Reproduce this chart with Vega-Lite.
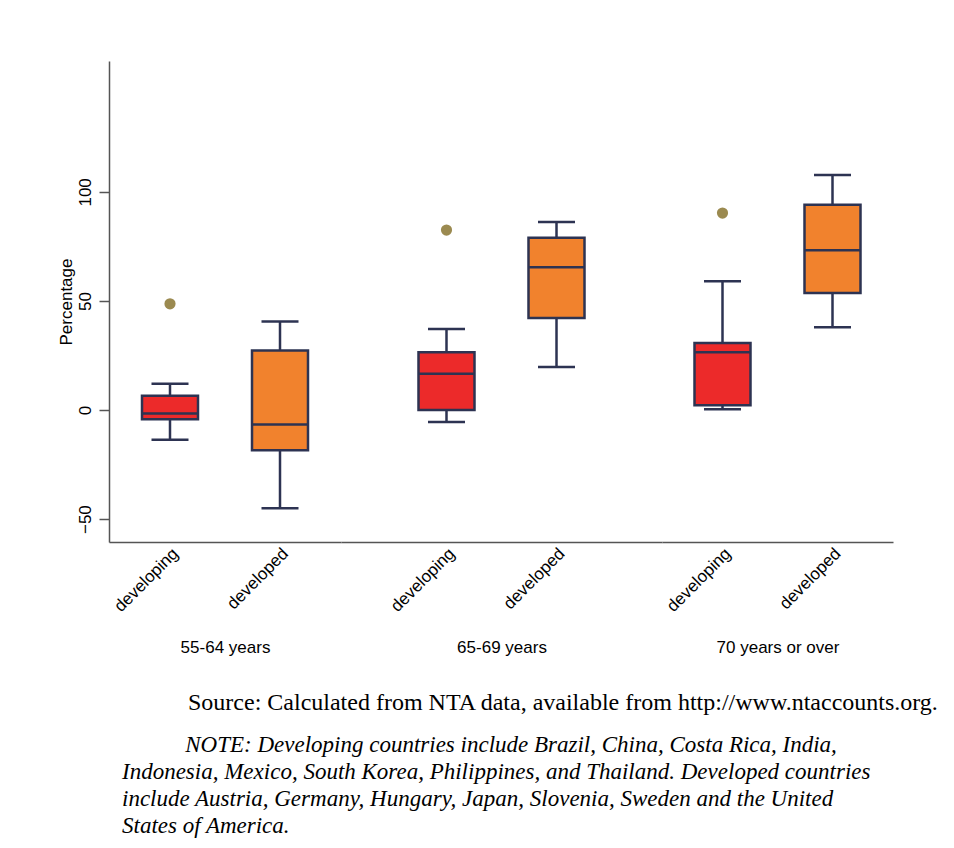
{
  "$schema": "https://vega.github.io/schema/vega-lite/v6.json",
  "padding": {"left": 57, "top": 61, "right": 0, "bottom": 10},
  "background": "white",
  "data": {"values": [
    {"group": "55-64 years", "type": "developing", "lower": -13.6, "q1": -4.2, "median": -1.6, "q3": 6.5, "upper": 12.0, "outlier": 48.7},
    {"group": "55-64 years", "type": "developed", "lower": -45.0, "q1": -18.4, "median": -6.6, "q3": 27.3, "upper": 40.6, "outlier": null},
    {"group": "65-69 years", "type": "developing", "lower": -5.5, "q1": 0.0, "median": 16.6, "q3": 26.5, "upper": 37.2, "outlier": 82.5},
    {"group": "65-69 years", "type": "developed", "lower": 19.7, "q1": 42.2, "median": 65.4, "q3": 79.0, "upper": 86.2, "outlier": null},
    {"group": "70 years or over", "type": "developing", "lower": 0.3, "q1": 2.2, "median": 26.5, "q3": 30.7, "upper": 59.0, "outlier": 90.3},
    {"group": "70 years or over", "type": "developed", "lower": 38.0, "q1": 53.7, "median": 73.3, "q3": 94.1, "upper": 107.7, "outlier": null}
  ]},
  "title": {
    "text": "\u200b\u00a0\u00a0\u00a0\u00a0\u00a0\u00a0\u00a0\u00a0\u00a0\u00a0\u00a0Source: Calculated from NTA data, available from http://www.ntaccounts.org.",
    "subtitle": [
      "\u200b\u00a0\u00a0\u00a0\u00a0\u00a0\u00a0\u00a0\u00a0\u00a0\u00a0\u00a0NOTE: Developing countries include Brazil, China, Costa Rica, India,",
      "Indonesia, Mexico, South Korea, Philippines, and Thailand. Developed countries",
      "include Austria, Germany, Hungary, Japan, Slovenia, Sweden and the United",
      "States of America."
    ],
    "orient": "bottom",
    "anchor": "start",
    "frame": "group",
    "dx": 13,
    "offset": 36,
    "font": "Liberation Serif",
    "fontSize": 24,
    "fontWeight": "normal",
    "color": "#000000",
    "subtitleFont": "Liberation Serif",
    "subtitleFontSize": 23,
    "subtitleFontStyle": "italic",
    "subtitleColor": "#000000",
    "subtitleLineHeight": 27,
    "subtitlePadding": 19
  },
  "spacing": 0,
  "resolve": {"scale": {"x": "independent", "y": "independent"}},
  "hconcat": [
    {
      "width": 232, "height": 481,
      "transform": [{"filter": "datum.group === '55-64 years'"}],
      "encoding": {
        "x": {"field": "type", "type": "nominal", "sort": ["developing", "developed"],
              "scale": {"domain": ["developing", "developed"], "paddingInner": 0, "paddingOuter": 0.0545},
              "axis": {"title": "55-64 years"}}
      },
      "layer": [
        {"mark": {"type": "rule", "color": "#2d3352", "strokeWidth": 2.5},
         "encoding": {"y": {"field": "lower", "type": "quantitative", "scale": {"domain": [-60.5, 160], "nice": false, "zero": false},
                            "axis": {"values": [-50, 0, 50, 100], "title": "Percentage"}},
                      "y2": {"field": "q1"}}},
        {"mark": {"type": "rule", "color": "#2d3352", "strokeWidth": 2.5},
         "encoding": {"y": {"field": "q3", "type": "quantitative"}, "y2": {"field": "upper"}}},
        {"mark": {"type": "bar", "width": 56, "stroke": "#2d3352", "strokeWidth": 2.5, "opacity": 1},
         "encoding": {"y": {"field": "q1", "type": "quantitative"}, "y2": {"field": "q3"},
                      "color": {"field": "type", "type": "nominal", "scale": {"domain": ["developing", "developed"], "range": ["#ec2a2a", "#f1822d"]}, "legend": null}}},
        {"mark": {"type": "tick", "color": "#2d3352", "size": 56, "thickness": 2.5, "opacity": 1},
         "encoding": {"y": {"field": "median", "type": "quantitative"}}},
        {"mark": {"type": "tick", "color": "#2d3352", "size": 37, "thickness": 2.5, "opacity": 1},
         "encoding": {"y": {"field": "upper", "type": "quantitative"}}},
        {"mark": {"type": "tick", "color": "#2d3352", "size": 37, "thickness": 2.5, "opacity": 1},
         "encoding": {"y": {"field": "lower", "type": "quantitative"}}},
        {"transform": [{"filter": "datum.outlier != null"}],
         "mark": {"type": "circle", "color": "#9b8a50", "size": 125, "opacity": 1},
         "encoding": {"y": {"field": "outlier", "type": "quantitative"}}}
      ]
    },
    {
      "width": 321, "height": 481,
      "transform": [{"filter": "datum.group === '65-69 years'"}],
      "encoding": {
        "x": {"field": "type", "type": "nominal", "sort": ["developing", "developed"],
              "scale": {"domain": ["developing", "developed"], "paddingInner": 0, "paddingOuter": 0.459},
              "axis": {"title": "65-69 years"}}
      },
      "layer": [
        {"mark": {"type": "rule", "color": "#2d3352", "strokeWidth": 2.5},
         "encoding": {"y": {"field": "lower", "type": "quantitative", "scale": {"domain": [-60.5, 160], "nice": false, "zero": false}, "axis": null},
                      "y2": {"field": "q1"}}},
        {"mark": {"type": "rule", "color": "#2d3352", "strokeWidth": 2.5},
         "encoding": {"y": {"field": "q3", "type": "quantitative"}, "y2": {"field": "upper"}}},
        {"mark": {"type": "bar", "width": 56, "stroke": "#2d3352", "strokeWidth": 2.5, "opacity": 1},
         "encoding": {"y": {"field": "q1", "type": "quantitative"}, "y2": {"field": "q3"},
                      "color": {"field": "type", "type": "nominal", "scale": {"domain": ["developing", "developed"], "range": ["#ec2a2a", "#f1822d"]}, "legend": null}}},
        {"mark": {"type": "tick", "color": "#2d3352", "size": 56, "thickness": 2.5, "opacity": 1},
         "encoding": {"y": {"field": "median", "type": "quantitative"}}},
        {"mark": {"type": "tick", "color": "#2d3352", "size": 37, "thickness": 2.5, "opacity": 1},
         "encoding": {"y": {"field": "upper", "type": "quantitative"}}},
        {"mark": {"type": "tick", "color": "#2d3352", "size": 37, "thickness": 2.5, "opacity": 1},
         "encoding": {"y": {"field": "lower", "type": "quantitative"}}},
        {"transform": [{"filter": "datum.outlier != null"}],
         "mark": {"type": "circle", "color": "#9b8a50", "size": 125, "opacity": 1},
         "encoding": {"y": {"field": "outlier", "type": "quantitative"}}}
      ]
    },
    {
      "width": 231, "height": 481,
      "transform": [{"filter": "datum.group === '70 years or over'"}],
      "encoding": {
        "x": {"field": "type", "type": "nominal", "sort": ["developing", "developed"],
              "scale": {"domain": ["developing", "developed"], "paddingInner": 0, "paddingOuter": 0.05},
              "axis": {"title": "70 years or over"}}
      },
      "layer": [
        {"mark": {"type": "rule", "color": "#2d3352", "strokeWidth": 2.5},
         "encoding": {"y": {"field": "lower", "type": "quantitative", "scale": {"domain": [-60.5, 160], "nice": false, "zero": false}, "axis": null},
                      "y2": {"field": "q1"}}},
        {"mark": {"type": "rule", "color": "#2d3352", "strokeWidth": 2.5},
         "encoding": {"y": {"field": "q3", "type": "quantitative"}, "y2": {"field": "upper"}}},
        {"mark": {"type": "bar", "width": 56, "stroke": "#2d3352", "strokeWidth": 2.5, "opacity": 1},
         "encoding": {"y": {"field": "q1", "type": "quantitative"}, "y2": {"field": "q3"},
                      "color": {"field": "type", "type": "nominal", "scale": {"domain": ["developing", "developed"], "range": ["#ec2a2a", "#f1822d"]}, "legend": null}}},
        {"mark": {"type": "tick", "color": "#2d3352", "size": 56, "thickness": 2.5, "opacity": 1},
         "encoding": {"y": {"field": "median", "type": "quantitative"}}},
        {"mark": {"type": "tick", "color": "#2d3352", "size": 37, "thickness": 2.5, "opacity": 1},
         "encoding": {"y": {"field": "upper", "type": "quantitative"}}},
        {"mark": {"type": "tick", "color": "#2d3352", "size": 37, "thickness": 2.5, "opacity": 1},
         "encoding": {"y": {"field": "lower", "type": "quantitative"}}},
        {"transform": [{"filter": "datum.outlier != null"}],
         "mark": {"type": "circle", "color": "#9b8a50", "size": 125, "opacity": 1},
         "encoding": {"y": {"field": "outlier", "type": "quantitative"}}}
      ]
    }
  ],
  "config": {
    "font": "Liberation Sans",
    "view": {"stroke": null},
    "axis": {"grid": false, "labelColor": "#000000", "titleColor": "#000000", "labelFontSize": 17, "titleFontSize": 17, "titleFontWeight": "normal", "domainColor": "#555555", "domainWidth": 1.5, "tickColor": "#555555", "tickWidth": 1.5},
    "axisX": {"ticks": false, "labelAngle": -45, "labelPadding": 3, "titlePadding": 25},
    "axisY": {"labelAngle": -90, "tickSize": 10, "labelPadding": 5, "titlePadding": 1}
  }
}
